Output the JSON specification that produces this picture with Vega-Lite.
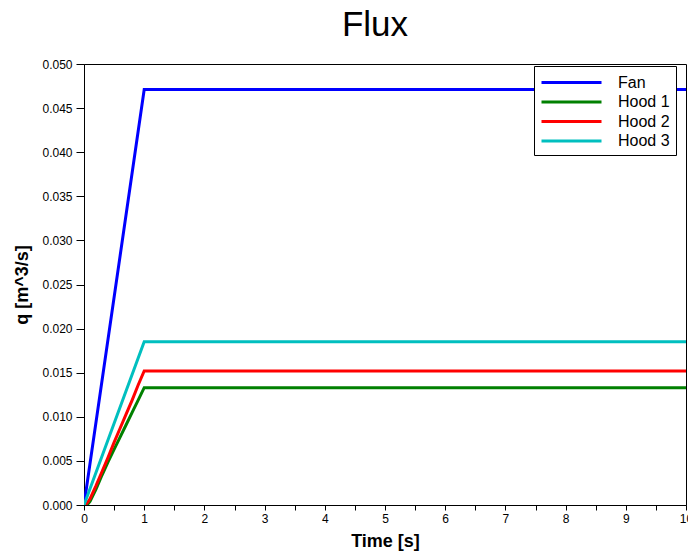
{
  "$schema": "https://vega.github.io/schema/vega-lite/v6.json",
  "width": 602,
  "height": 441,
  "autosize": {"type": "none"},
  "padding": {"left": 84, "top": 64, "right": 2, "bottom": 54},
  "background": "white",
  "title": {"text": "Flux", "fontSize": 35, "font": "Liberation Sans", "fontWeight": "normal", "anchor": "middle", "frame": "group", "offset": 15, "dx": -10, "color": "black"},
  "config": {
    "font": "Liberation Sans",
    "view": {"stroke": "black", "strokeWidth": 1},
    "axis": {"grid": false, "domainColor": "black", "tickColor": "black", "labelColor": "black", "titleColor": "black", "labelFontSize": 12, "titleFontSize": 18, "titleFontWeight": "bold", "labelFont": "Liberation Sans", "titleFont": "Liberation Sans"}
  },
  "data": {
    "values": [
      {"series": "Fan", "t": 0, "q": 0},
      {"series": "Fan", "t": 1, "q": 0.0471},
      {"series": "Fan", "t": 10, "q": 0.0471},
      {"series": "Hood 1", "t": 0, "q": 0},
      {"series": "Hood 1", "t": 0.05, "q": 0},
      {"series": "Hood 1", "t": 0.1, "q": 0.0004},
      {"series": "Hood 1", "t": 0.2, "q": 0.0018},
      {"series": "Hood 1", "t": 0.3, "q": 0.0034},
      {"series": "Hood 1", "t": 0.4, "q": 0.0049},
      {"series": "Hood 1", "t": 0.5, "q": 0.0063},
      {"series": "Hood 1", "t": 0.6, "q": 0.0077},
      {"series": "Hood 1", "t": 0.7, "q": 0.0091},
      {"series": "Hood 1", "t": 0.8, "q": 0.0105},
      {"series": "Hood 1", "t": 0.9, "q": 0.0119},
      {"series": "Hood 1", "t": 1, "q": 0.0133},
      {"series": "Hood 1", "t": 10, "q": 0.0133},
      {"series": "Hood 2", "t": 0, "q": 0},
      {"series": "Hood 2", "t": 0.05, "q": 0.0002},
      {"series": "Hood 2", "t": 0.1, "q": 0.0007},
      {"series": "Hood 2", "t": 0.2, "q": 0.0022},
      {"series": "Hood 2", "t": 0.3, "q": 0.0038},
      {"series": "Hood 2", "t": 0.4, "q": 0.0054},
      {"series": "Hood 2", "t": 0.5, "q": 0.0071},
      {"series": "Hood 2", "t": 0.6, "q": 0.0087},
      {"series": "Hood 2", "t": 0.7, "q": 0.0103},
      {"series": "Hood 2", "t": 0.8, "q": 0.0119},
      {"series": "Hood 2", "t": 0.9, "q": 0.0136},
      {"series": "Hood 2", "t": 1, "q": 0.0152},
      {"series": "Hood 2", "t": 10, "q": 0.0152},
      {"series": "Hood 3", "t": 0, "q": 0},
      {"series": "Hood 3", "t": 1, "q": 0.0185},
      {"series": "Hood 3", "t": 10, "q": 0.0185}
    ]
  },
  "mark": {"type": "line", "strokeWidth": 3, "clip": true},
  "encoding": {
    "x": {
      "field": "t", "type": "quantitative",
      "scale": {"domain": [0, 10], "nice": false, "zero": false},
      "axis": {"title": "Time [s]", "values": [0,0.5,1,1.5,2,2.5,3,3.5,4,4.5,5,5.5,6,6.5,7,7.5,8,8.5,9,9.5,10], "labelExpr": "datum.value % 1 == 0 ? format(datum.value, 'd') : ''", "tickSize": 5, "labelPadding": 3, "titlePadding": 8, "labelFlush": false}
    },
    "y": {
      "field": "q", "type": "quantitative",
      "scale": {"domain": [0, 0.05], "nice": false},
      "axis": {"title": "q [m^3/s]", "values": [0,0.005,0.01,0.015,0.02,0.025,0.03,0.035,0.04,0.045,0.05], "format": ".3f", "tickSize": 8, "labelPadding": 4, "titlePadding": 10, "labelFlush": false}
    },
    "color": {
      "field": "series", "type": "nominal",
      "scale": {"domain": ["Fan", "Hood 1", "Hood 2", "Hood 3"], "range": ["#0000ff", "#008000", "#ff0000", "#00bfbf"]},
      "legend": {"title": null, "orient": "none", "legendX": 450, "legendY": 2, "strokeColor": "black", "fillColor": "white", "padding": 6, "symbolType": "M-1,0H5.667", "symbolSize": 324, "symbolStrokeWidth": 3, "labelFontSize": 16, "labelFont": "Liberation Sans", "labelColor": "black", "labelOffset": 57, "rowPadding": 0.5}
    }
  }
}
